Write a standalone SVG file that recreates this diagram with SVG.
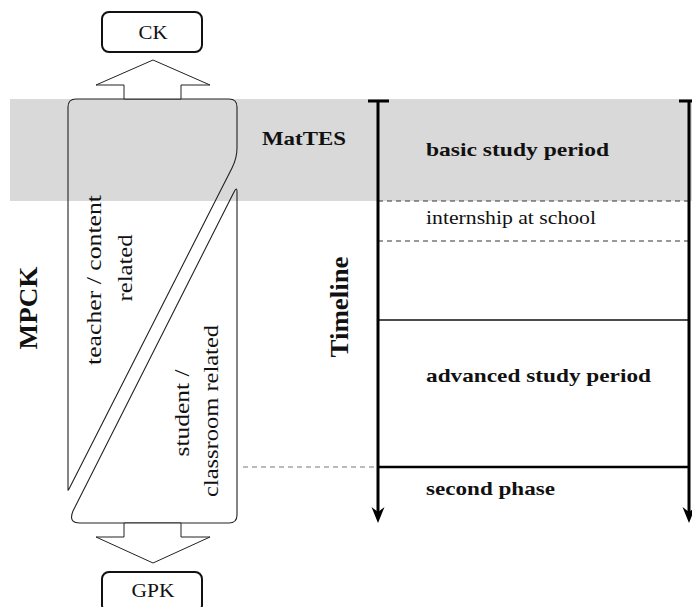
<svg xmlns="http://www.w3.org/2000/svg" width="692" height="607" viewBox="0 0 692 607">
  <style>
    .t { font-family: "Liberation Serif", "DejaVu Serif", serif; fill: #111; }
    .b { font-weight: bold; }
    .box { fill: #fff; stroke: #111; stroke-width: 2; }
    .shape { fill: none; stroke: #222; stroke-width: 1.1; stroke-linejoin: round; }
    .fat { fill: #fff; stroke: #222; stroke-width: 1; }
    .axis { stroke: #000; stroke-width: 3; fill: none; }
    .dash { stroke: #333; stroke-width: 1; stroke-dasharray: 5 4; }
  </style>
  <defs>
    <path id="head" d="M0,0 L-6.5,-16 L0,-11 L6.5,-16 Z" fill="#000"/>
  </defs>

  <!-- MatTES band -->
  <rect id="band" x="10" y="99" width="682" height="102" fill="#d9d9d9"/>

  <!-- side labels -->
  <g id="mpck">
    <text class="t b" font-size="25" text-anchor="middle" textLength="83" lengthAdjust="spacingAndGlyphs" transform="translate(37,308) rotate(-90)">MPCK</text>
  </g>
  <g id="timeline-label">
    <text class="t b" font-size="25" text-anchor="middle" textLength="101" lengthAdjust="spacingAndGlyphs" transform="translate(348,307) rotate(-90)">Timeline</text>
  </g>

  <!-- knowledge boxes -->
  <g id="ck">
    <rect class="box" x="102" y="12" width="100" height="40" rx="7"/>
    <text class="t" font-size="19" x="153" y="39" text-anchor="middle" textLength="29" lengthAdjust="spacingAndGlyphs">CK</text>
  </g>
  <g id="gpk">
    <rect class="box" x="102" y="572" width="100" height="40" rx="7"/>
    <text class="t" font-size="19" x="153" y="597" text-anchor="middle" textLength="43" lengthAdjust="spacingAndGlyphs">GPK</text>
  </g>

  <!-- the two halves of the MPCK block -->
  <g id="teacher-content">
    <path class="shape" d="M68,490 V107 Q68,99 76,99 H229 Q237,99 237,107 V148 Q237,158 232,168 L70,487 Q68,491 68,490 Z"/>
    <text class="t" font-size="21" text-anchor="middle" textLength="170" lengthAdjust="spacingAndGlyphs" transform="translate(101,280) rotate(-90)">teacher / content</text>
    <text class="t" font-size="21" text-anchor="middle" textLength="67" lengthAdjust="spacingAndGlyphs" transform="translate(132,268) rotate(-90)">related</text>
  </g>
  <g id="student-classroom">
    <path class="shape" d="M237,192 Q237,186 234,192 L73,511 Q68,523 80,523 H229 Q237,523 237,515 Z"/>
    <text class="t" font-size="21" text-anchor="middle" textLength="87" lengthAdjust="spacingAndGlyphs" transform="translate(189,413) rotate(-90)">student /</text>
    <text class="t" font-size="21" text-anchor="middle" textLength="172" lengthAdjust="spacingAndGlyphs" transform="translate(218,411) rotate(-90)">classroom related</text>
  </g>

  <!-- connectors -->
  <g id="connectors">
    <polygon class="fat" points="124,99 124,85 96,85 153,60 210,85 181,85 181,99"/>
    <polygon class="fat" points="124,523 124,537 96,537 153,563 210,537 181,537 181,523"/>
    <line x1="243" y1="467" x2="378" y2="467" stroke="#777" stroke-width="1" stroke-dasharray="5 4"/>
  </g>

  <!-- timeline -->
  <g id="timeline">
    <line class="dash" x1="378" y1="201" x2="689" y2="201"/>
    <line class="dash" x1="378" y1="241" x2="689" y2="241"/>
    <line x1="378" y1="320" x2="689" y2="320" stroke="#111" stroke-width="1.5"/>
    <line x1="378" y1="467" x2="689" y2="467" stroke="#000" stroke-width="2.6"/>
    <line class="axis" x1="368" y1="101" x2="389" y2="101"/>
    <line class="axis" x1="378" y1="101" x2="378" y2="514"/>
    <use href="#head" x="378" y="523"/>
    <line class="axis" x1="679" y1="101" x2="699" y2="101"/>
    <line class="axis" x1="689" y1="101" x2="689" y2="514"/>
    <use href="#head" x="689" y="523"/>
  </g>

  <!-- period labels -->
  <g id="periods">
    <text class="t b" font-size="19" x="262" y="145" textLength="84" lengthAdjust="spacingAndGlyphs">MatTES</text>
    <text class="t b" font-size="19" x="426" y="156" textLength="183" lengthAdjust="spacingAndGlyphs">basic study period</text>
    <text class="t" font-size="19" x="426" y="224" textLength="170" lengthAdjust="spacingAndGlyphs">internship at school</text>
    <text class="t b" font-size="19" x="426" y="382" textLength="225" lengthAdjust="spacingAndGlyphs">advanced study period</text>
    <text class="t b" font-size="19" x="426" y="495" textLength="129" lengthAdjust="spacingAndGlyphs">second phase</text>
  </g>
</svg>
